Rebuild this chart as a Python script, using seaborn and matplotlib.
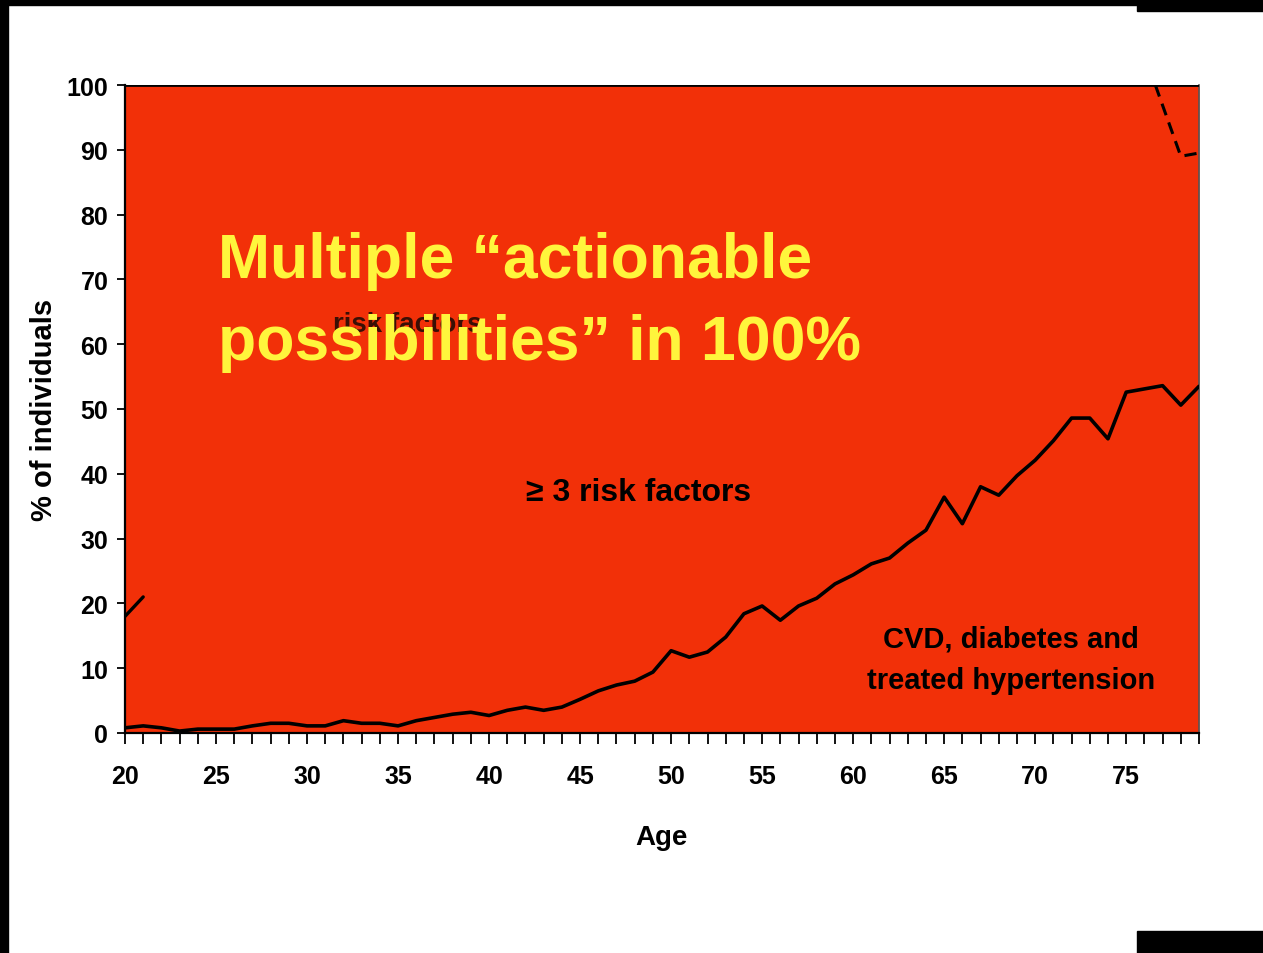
import numpy as np
import pandas as pd
import matplotlib
matplotlib.use("Agg")
import matplotlib.pyplot as plt
from matplotlib.patches import Rectangle
import seaborn as sns

# Share of individuals by age with CVD, diabetes or treated hypertension
ages = list(range(20, 80))
cvd_diabetes_htn = [
    0.8, 1.1, 0.8, 0.3, 0.6, 0.6, 0.6, 1.1, 1.5, 1.5,
    1.1, 1.1, 1.9, 1.5, 1.5, 1.1, 1.9, 2.4, 2.9, 3.2,
    2.7, 3.5, 4.0, 3.5, 4.0, 5.2, 6.5, 7.4, 8.0, 9.4,
    12.7, 11.7, 12.5, 14.8, 18.4, 19.6, 17.4, 19.6, 20.8, 23.0,
    24.4, 26.1, 27.0, 29.3, 31.3, 36.4, 32.3, 38.0, 36.7, 39.7,
    42.1, 45.1, 48.6, 48.6, 45.4, 52.6, 53.1, 53.6, 50.6, 53.5,
]
# Remaining visible pieces of the upper boundary lines
upper_left_ages = [20, 21]
upper_left_vals = [18.0, 21.0]
upper_right_ages = [76.6, 78, 79]
upper_right_vals = [100.0, 89.0, 89.5]

x_ticks = list(range(20, 80, 5))
y_ticks = list(range(0, 101, 10))

RED = "#F23008"
YELLOW = "#FFF53C"

sns.set_style("white")
plt.rcParams["font.family"] = ["Liberation Sans", "DejaVu Sans"]
plt.rcParams["font.weight"] = "bold"
plt.rcParams["text.color"] = "black"
plt.rcParams["axes.labelcolor"] = "black"

fig = plt.figure(figsize=(12.63, 9.54), dpi=100)
fig.patch.set_facecolor("white")
ax = fig.add_axes([125 / 1263, 1 - 734 / 954, (1199 - 125) / 1263, (734 - 86) / 954])

df = pd.DataFrame({"age": ages, "pct": cvd_diabetes_htn})

# stacked areas: lower group and everyone above it
ax.fill_between(df["age"], 0, df["pct"], color=RED, lw=0, zorder=1)
ax.fill_between(df["age"], df["pct"], 100, color=RED, lw=0, zorder=1)

sns.lineplot(data=df, x="age", y="pct", color="black", lw=2.6, ax=ax, zorder=3)
ax.plot(upper_left_ages, upper_left_vals, color="black", lw=2.4, zorder=3)
ax.plot(upper_right_ages, upper_right_vals, color="black", lw=2.2,
        ls=(0, (4, 2.5)), zorder=3)
ax.axhline(100, color="black", lw=2.0, zorder=3)

ax.set_xlim(20, 79)
ax.set_ylim(0, 100)
ax.set_xticks(x_ticks)
ax.set_xticks(ages, minor=True)
ax.set_yticks(y_ticks)
ax.tick_params(axis="x", which="both", direction="out", length=8, width=1.3,
               bottom=True, pad=14, labelsize=18, color="black", labelcolor="black")
ax.tick_params(axis="y", direction="out", length=6, width=1.3, left=True,
               pad=6, labelsize=18, color="black", labelcolor="black")
for lab in ax.get_xticklabels() + ax.get_yticklabels():
    lab.set_fontweight("bold")

for side in ["left", "bottom"]:
    ax.spines[side].set_visible(True)
    ax.spines[side].set_color("black")
    ax.spines[side].set_linewidth(1.6)
ax.spines["right"].set_color("#555555")
ax.spines["right"].set_linewidth(1.2)
ax.spines["top"].set_visible(False)

ax.set_xlabel("Age", fontsize=20, fontweight="bold", color="black")
ax.set_ylabel("% of individuals", fontsize=21, fontweight="bold", color="black")
ax.xaxis.set_label_coords(0.5, -0.14)
ax.yaxis.set_label_coords(-0.062, 0.5)

# area labels
ax.text(0.2635, 0.631, "risk factors", transform=ax.transAxes, fontsize=20,
        color="#1a0a05", ha="center", va="center", zorder=4, alpha=0.85)
ax.text(0.4786, 0.372, "\u2265 3 risk factors", transform=ax.transAxes, fontsize=23,
        color="black", ha="center", va="center", zorder=4)
ax.text(0.825, 0.114, "CVD, diabetes and\ntreated hypertension", transform=ax.transAxes,
        fontsize=21, color="black", ha="center", va="center", linespacing=1.6,
        zorder=4)

# headline message
ax.text(0.087, 0.557, "Multiple \u201cactionable\npossibilities\u201d in 100%",
        transform=ax.transAxes, fontsize=45, color=YELLOW, ha="left", va="bottom",
        linespacing=1.5, zorder=5, fontweight="bold")

# slide frame edges
fig.patches.append(Rectangle((0, 0), 8 / 1263, 1, transform=fig.transFigure,
                             color="black", zorder=10))
fig.patches.append(Rectangle((0, 1 - 6 / 954), 1, 6 / 954, transform=fig.transFigure,
                             color="black", zorder=10))
fig.patches.append(Rectangle((1137 / 1263, 1 - 12 / 954), 126 / 1263, 12 / 954,
                             transform=fig.transFigure, color="black", zorder=10))
fig.patches.append(Rectangle((1137 / 1263, 0), 126 / 1263, 22 / 954,
                             transform=fig.transFigure, color="black", zorder=10))

fig.savefig("out.png", dpi=100, facecolor="white")
